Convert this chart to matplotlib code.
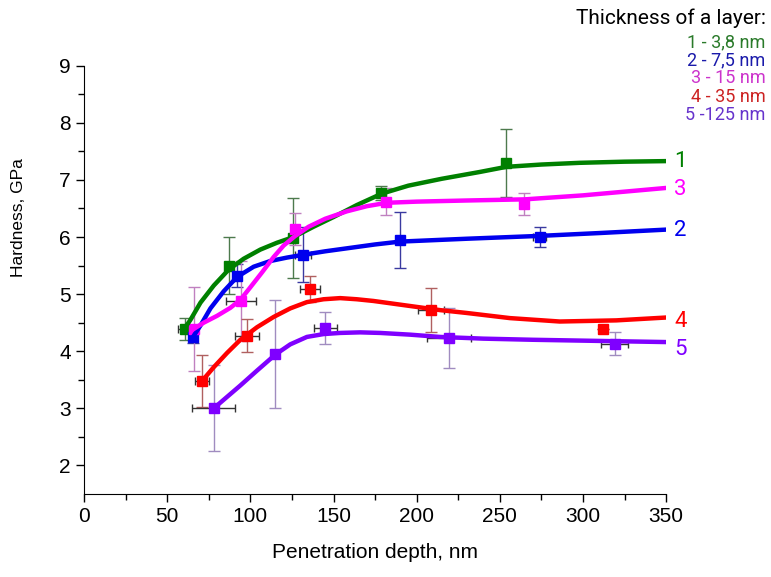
import matplotlib.pyplot as plt

plt.rcParams['font.family'] = ['Liberation Sans', 'DejaVu Sans']

# measured points (penetration depth, hardness, errors)
x1 = [60.7, 87, 125.7, 178.6, 254]
y1 = [4.39, 5.50, 5.99, 6.77, 7.30]
ey1 = [0.2, 0.5, 0.7, 0.13, 0.6]
ex1 = [4, 0, 0, 0, 0]

x2 = [65.5, 92, 131.7, 190, 274]
y2 = [4.25, 5.32, 5.69, 5.95, 6.0]
ey2 = [0.1, 0.2, 0.48, 0.49, 0.17]
ex2 = [0, 0, 5, 0, 4]

x3 = [66, 94.4, 127, 181.6, 264.6]
y3 = [4.39, 4.88, 6.14, 6.62, 6.58]
ey3 = [0.74, 0.7, 0.28, 0.24, 0.2]
ex3 = [0, 9, 0, 0, 0]

x4 = [71, 98, 136, 208.7, 312]
y4 = [3.48, 4.27, 5.09, 4.72, 4.39]
ey4 = [0.45, 0.29, 0.22, 0.39, 0]
ex4 = [4, 7, 6, 8, 0]

x5 = [78, 115, 145, 219.5, 319]
y5 = [3.0, 3.95, 4.41, 4.23, 4.13]
ey5 = [0.75, 0.95, 0.28, 0.52, 0.2]
ex5 = [13, 0, 7, 13, 8]

# fitted curves
cx1 = [60, 64, 70, 78, 87, 96, 106, 116, 126, 138, 150, 164, 179, 195, 215, 238, 254, 275, 298, 325, 350]
cy1 = [4.38, 4.55, 4.85, 5.15, 5.43, 5.62, 5.78, 5.9, 6.0, 6.18, 6.35, 6.56, 6.76, 6.9, 7.02, 7.14, 7.23, 7.27, 7.30, 7.32, 7.33]

cx2 = [65.5, 70, 76, 84, 92, 102, 112, 122, 132, 145, 160, 175, 190, 230, 274, 310, 350]
cy2 = [4.25, 4.45, 4.75, 5.05, 5.3, 5.48, 5.58, 5.64, 5.69, 5.75, 5.81, 5.87, 5.92, 5.97, 6.02, 6.07, 6.13]

cx3 = [66, 72, 80, 88, 94, 100, 107, 114, 120, 127, 135, 145, 158, 170, 182, 200, 230, 265, 300, 350]
cy3 = [4.39, 4.5, 4.62, 4.76, 4.9, 5.12, 5.38, 5.65, 5.85, 6.02, 6.18, 6.32, 6.45, 6.54, 6.6, 6.62, 6.64, 6.66, 6.73, 6.86]

cx4 = [71, 78, 86, 94, 104, 114, 124, 134, 144, 154, 164, 174, 184, 194, 204, 214, 230, 256, 286, 320, 350]
cy4 = [3.48, 3.72, 3.97, 4.2, 4.42, 4.6, 4.75, 4.86, 4.91, 4.93, 4.91, 4.88, 4.84, 4.8, 4.76, 4.72, 4.67, 4.58, 4.52, 4.54, 4.59]

cx5 = [78, 86, 94, 104, 115, 124, 134, 144, 154, 166, 178, 196, 214, 240, 270, 310, 350]
cy5 = [3.0, 3.2, 3.4, 3.66, 3.94, 4.12, 4.25, 4.3, 4.32, 4.33, 4.32, 4.29, 4.25, 4.22, 4.2, 4.18, 4.16]

series = [
    (x1, y1, ey1, ex1, cx1, cy1, '#008000', '#4d7a4d', '1'),
    (x2, y2, ey2, ex2, cx2, cy2, '#0000ee', '#3a3aa0', '2'),
    (x3, y3, ey3, ex3, cx3, cy3, '#ff00ff', '#c080c0', '3'),
    (x4, y4, ey4, ex4, cx4, cy4, '#ff0000', '#b06060', '4'),
    (x5, y5, ey5, ex5, cx5, cy5, '#7f00ff', '#a08cc0', '5'),
]

fig = plt.figure(figsize=(7.71, 5.77), dpi=100)
ax = fig.add_axes([0.109, 0.144, 0.755, 0.742])

for x, y, ey, ex, cx, cy, col, ecol, lab in series:
    ax.errorbar(x, y, yerr=ey, fmt='none', ecolor=ecol, elinewidth=1, capsize=4, capthick=1, zorder=2)
    xe_x = [a for a, e in zip(x, ex) if e > 0]
    xe_y = [b for b, e in zip(y, ex) if e > 0]
    xe_e = [e for e in ex if e > 0]
    if xe_x:
        ax.errorbar(xe_x, xe_y, xerr=xe_e, fmt='none', ecolor='#333333', elinewidth=1, capsize=3, capthick=1, zorder=2)
    ax.plot(x, y, 's', color=col, markersize=6.5, zorder=3)
    ax.plot(cx, cy, '-', color=col, linewidth=3.2, zorder=4)

label_y = {'1': 7.33, '3': 6.83, '2': 6.11, '4': 4.52, '5': 4.03}
for x, y, ey, ex, cx, cy, col, ecol, lab in series:
    ax.text(355, label_y[lab], lab, color=col, fontsize=16, family=['Roboto', 'DejaVu Sans'],
            va='center', ha='left', clip_on=False)

ax.set_xlim(0, 350)
ax.set_ylim(1.5, 9)
ax.set_xticks(range(0, 351, 50))
ax.set_xticks(range(25, 351, 50), minor=True)
ax.set_yticks(range(2, 10))
ax.set_yticks([2.5, 3.5, 4.5, 5.5, 6.5, 7.5, 8.5], minor=True)
ax.tick_params(which='major', direction='out', length=6, width=1, labelsize=15)
ax.tick_params(which='minor', direction='out', length=4, width=1)
ax.spines['top'].set_visible(False)
ax.spines['right'].set_visible(False)
ax.set_xlabel('Penetration depth, nm', fontsize=15, labelpad=12)
ax.set_ylabel('Hardness, GPa', fontsize=12.5)
ax.yaxis.set_label_coords(-0.099, 0.645)

fig.text(0.993, 0.968, 'Thickness of a layer:', ha='right', va='center', fontsize=15,
         family=['Roboto', 'DejaVu Sans'], color='black')
legend_lines = ['1 - 3,8 nm', '2 - 7,5 nm', '3 - 15 nm', '4 - 35 nm', '5 -125 nm']
legend_cols = ['#2a7a2a', '#1a1aaa', '#cc33cc', '#cc2222', '#6633cc']
for i, (t, c) in enumerate(zip(legend_lines, legend_cols)):
    fig.text(0.993, 0.927 - i * 0.0315, t, ha='right', va='center', fontsize=13,
             family=['Roboto', 'DejaVu Sans'], color=c)

fig.savefig('out.png', dpi=100)
